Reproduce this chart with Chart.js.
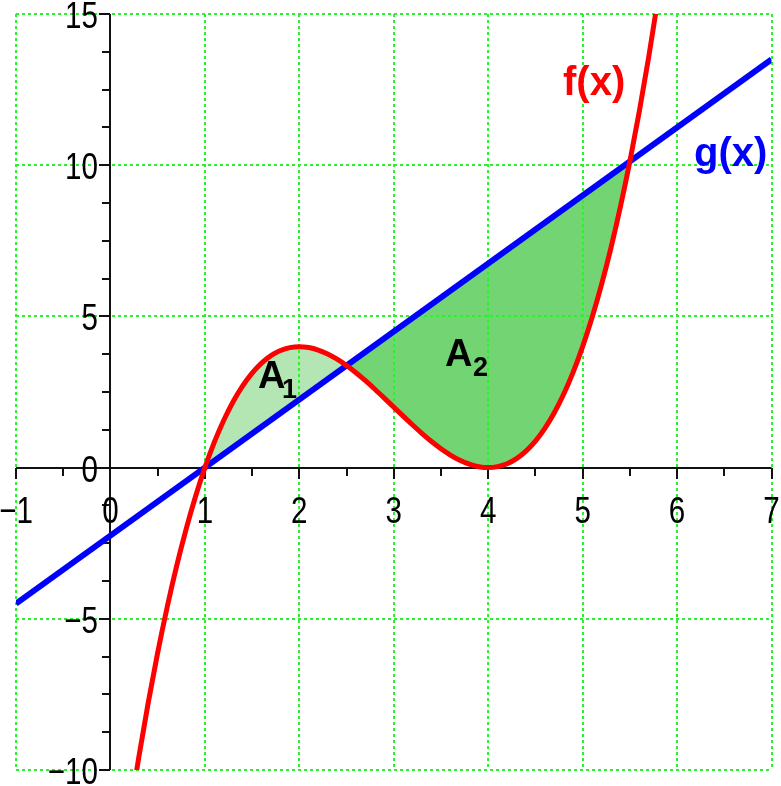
<!DOCTYPE html>
<html>
<head>
<meta charset="utf-8">
<script src="https://cdn.jsdelivr.net/npm/chart.js@4/dist/chart.umd.min.js"></script>
<style>
  html, body { margin: 0; padding: 0; background: #ffffff; }
  #wrap { position: relative; width: 781px; height: 786px; }
</style>
</head>
<body>
<div id="wrap"><canvas id="c"></canvas></div>
<script>
// ---- data ----
const fX = [0.2,0.3,0.4,0.5,0.6,0.7,0.8,0.9,1.0,1.1,1.2,1.3,1.4,1.5,1.6,1.7,1.8,1.9,2.0,
            2.1,2.2,2.3,2.4,2.5,2.6,2.7,2.8,2.9,3.0,3.1,3.2,3.3,3.4,3.5,3.6,3.7,3.8,3.9,4.0,
            4.1,4.2,4.3,4.4,4.5,4.6,4.7,4.8,4.9,5.0,5.1,5.2,5.3,5.4,5.5,5.6,5.7,5.8];
const fY = [-11.552,-9.583,-7.776,-6.125,-4.624,-3.267,-2.048,-0.961,0,0.841,1.568,2.187,2.704,3.125,3.456,3.703,3.872,3.969,4,
            3.971,3.888,3.757,3.584,3.375,3.136,2.873,2.592,2.299,2,1.701,1.408,1.127,0.864,0.625,0.416,0.243,0.112,0.029,0,
            0.031,0.128,0.297,0.544,0.875,1.296,1.813,2.432,3.159,4,4.961,6.048,7.267,8.624,10.125,11.776,13.583,15.552];
const gX = [-1, 7];
const gY = [-4.5, 13.5];
const crossX = [1, 2.5, 5.5];           // where f(x) and g(x) meet
const xTicks = [-1,0,1,2,3,4,5,6,7];
const yTicks = [-10,-5,0,5,10,15];
const xTickMarks = [-1,-0.5,0,0.5,1,1.5,2,2.5,3,3.5,4,4.5,5,5.5,6,6.5,7];
const yTickMarks = [-10,-8.75,-7.5,-6.25,-5,-3.75,-2.5,-1.25,0,1.25,2.5,3.75,5,6.25,7.5,8.75,10,11.25,12.5,13.75,15];
const curveLabels = ['f(x)', 'g(x)'];
const areaLabels = ['A', '1', 'A', '2'];

// ---- build datasets ----
const fPts = fX.map((x, i) => ({x: x, y: fY[i]}));
const gPts = gX.map((x, i) => ({x: x, y: gY[i]}));
const i1 = fX.indexOf(crossX[0]), i2 = fX.indexOf(crossX[1]), i3 = fX.indexOf(crossX[2]);
const a1Pts = fPts.slice(i1, i2 + 1);
const a2Pts = fPts.slice(i2, i3 + 1);

const RED = '#ff0000', BLUE = '#0000ff', GRID = '#2ef02e';
const A1C = '#b4e6b4', A2C = '#72d472';

const minus = s => String(s).replace('-', '\u2212');

const axesPlugin = {
  id: 'axesPlugin',
  beforeDatasetsDraw(chart) {
    const {ctx, scales: {x, y}} = chart;
    const ox = Math.round(x.getPixelForValue(0)), oy = Math.round(y.getPixelForValue(0));
    ctx.save();
    ctx.setLineDash([]);
    ctx.lineCap = 'butt';
    ctx.strokeStyle = '#111111';
    ctx.lineWidth = 2;
    ctx.beginPath();
    ctx.moveTo(x.left, oy); ctx.lineTo(x.right, oy);
    ctx.moveTo(ox, y.top); ctx.lineTo(ox, y.bottom);
    ctx.stroke();
    ctx.beginPath();
    xTickMarks.forEach(v => {
      const px = Math.round(x.getPixelForValue(v));
      const len = Number.isInteger(v) ? 11 : 8;
      ctx.moveTo(px, oy); ctx.lineTo(px, oy + len);
    });
    yTickMarks.forEach(v => {
      const py = Math.round(y.getPixelForValue(v));
      const len = (v % 5 === 0) ? 11 : 8;
      ctx.moveTo(ox, py); ctx.lineTo(ox - len, py);
    });
    ctx.stroke();
    ctx.fillStyle = '#000';
    ctx.font = '37px "Liberation Sans", Arial, sans-serif';
    const sx = 0.8;
    xTicks.forEach(v => {
      const px = x.getPixelForValue(v);
      ctx.save();
      ctx.translate(px, oy + 54.5);
      ctx.scale(sx, 1);
      ctx.textAlign = 'center';
      ctx.textBaseline = 'alphabetic';
      ctx.fillText(minus(v), 0, 0);
      ctx.restore();
    });
    yTicks.forEach(v => {
      const py = y.getPixelForValue(v);
      ctx.save();
      ctx.translate(ox - 12, py + 14);
      ctx.scale(sx, 1);
      ctx.textAlign = 'right';
      ctx.textBaseline = 'alphabetic';
      ctx.fillText(minus(v), 0, 0);
      ctx.restore();
    });
    ctx.restore();
  },
  afterDatasetsDraw(chart) {
    const {ctx} = chart;
    ctx.save();
    ctx.textBaseline = 'alphabetic';
    ctx.textAlign = 'left';
    ctx.font = 'bold 40px "Liberation Sans", Arial, sans-serif';
    ctx.fillStyle = RED;
    ctx.fillText(curveLabels[0], 563, 95);
    ctx.fillStyle = BLUE;
    ctx.fillText(curveLabels[1], 694, 166);
    ctx.fillStyle = '#000';
    ctx.font = 'bold 38px "Liberation Sans", Arial, sans-serif';
    ctx.fillText(areaLabels[0], 258, 388);
    ctx.fillText(areaLabels[2], 445, 366);
    ctx.font = 'bold 27px "Liberation Sans", Arial, sans-serif';
    ctx.fillText(areaLabels[1], 282, 398);
    ctx.fillText(areaLabels[3], 473, 376);
    ctx.restore();
  }
};

new Chart(document.getElementById('c'), {
  type: 'line',
  data: {
    datasets: [
      { label: 'f(x)', data: fPts, borderColor: RED, borderWidth: 5, pointRadius: 0,
        fill: false, cubicInterpolationMode: 'monotone' },
      { label: 'g(x)', data: gPts, borderColor: BLUE, borderWidth: 6, pointRadius: 0, fill: false },
      { label: 'A1', data: a1Pts, borderColor: 'transparent', borderWidth: 0, pointRadius: 0,
        backgroundColor: A1C, cubicInterpolationMode: 'monotone',
        fill: { target: 1, above: A1C, below: A1C } },
      { label: 'A2', data: a2Pts, borderColor: 'transparent', borderWidth: 0, pointRadius: 0,
        backgroundColor: A2C, cubicInterpolationMode: 'monotone',
        fill: { target: 1, above: A2C, below: A2C } }
    ]
  },
  options: {
    responsive: true,
    maintainAspectRatio: false,
    animation: false,
    events: [],
    layout: { padding: { left: 16, right: 9.5, top: 14, bottom: 16 } },
    plugins: {
      legend: { display: false },
      tooltip: { enabled: false },
      filler: { drawTime: 'beforeDraw', propagate: false }
    },
    scales: {
      x: {
        type: 'linear', min: -1, max: 7,
        ticks: { display: false, stepSize: 1 },
        grid: { color: GRID, lineWidth: 2, drawTicks: false },
        border: { display: false, dash: [3, 3] }
      },
      y: {
        type: 'linear', min: -10, max: 15,
        ticks: { display: false, stepSize: 5 },
        grid: { color: GRID, lineWidth: 2, drawTicks: false },
        border: { display: false, dash: [3, 3] }
      }
    }
  },
  plugins: [axesPlugin]
});
</script>
</body>
</html>
